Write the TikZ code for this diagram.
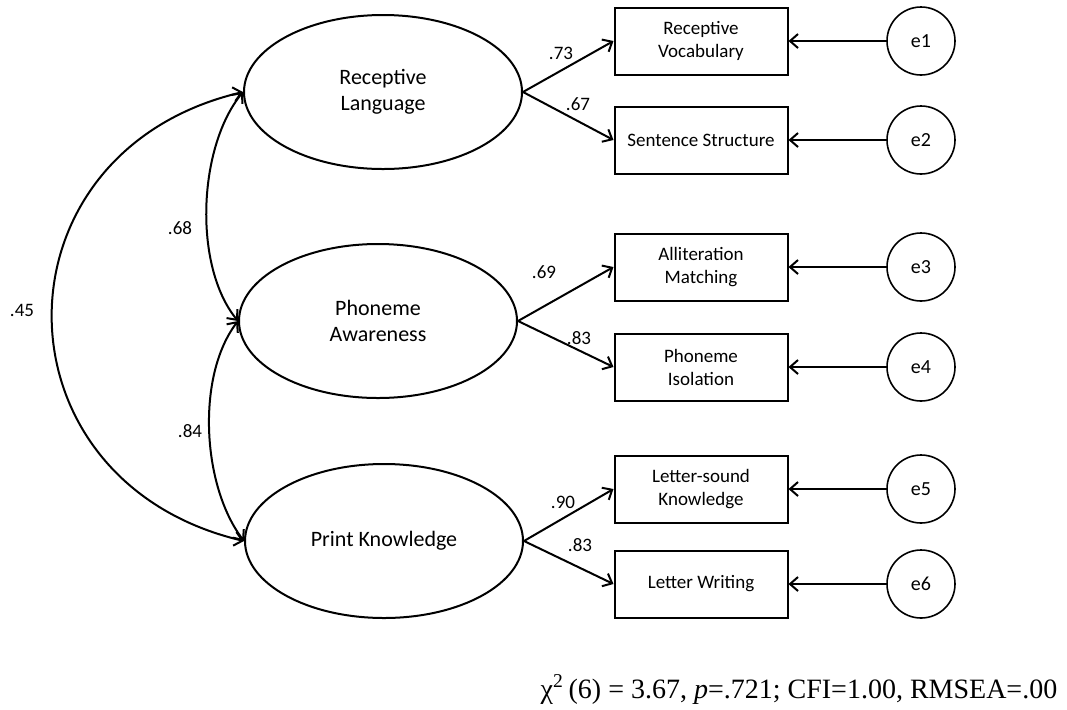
\documentclass[tikz,border=0pt]{standalone}
\usepackage{fontspec}
\setmainfont{Carlito}
\newfontfamily\statfont{Liberation Serif}
\usetikzlibrary{shapes.geometric,arrows.meta,positioning}

\tikzset{
  latent/.style={ellipse, draw, line width=1pt, minimum width=139pt, minimum height=77pt,
    inner sep=0pt, align=center, font=\fontsize{11}{13}\selectfont},
  observed/.style={rectangle, draw, line width=1pt, minimum width=86.5pt, minimum height=33.5pt,
    inner sep=0pt, align=center, font=\fontsize{9.5}{11.5}\selectfont},
  errvar/.style={circle, draw, line width=0.8pt, minimum size=34pt, inner sep=0pt,
    font=\fontsize{10}{12}\selectfont},
  coef/.style={font=\fontsize{9.5}{11}\selectfont},
  arr/.style={line width=1pt, -{Straight Barb[length=4pt,width=7pt]}},
  corr/.style={line width=1pt, {Straight Barb[length=4pt,width=7pt]}-{Straight Barb[length=4pt,width=7pt]}},
}

\begin{document}
\begin{tikzpicture}[x=0.5pt, y=-0.5pt]
    \useasboundingbox (0,0) rectangle (1067,709);

    % Facteurs latents
    \node[latent] (rl) at (383,92) {Receptive\\Language};
    \node[latent] (pa) at (378,321) {Phoneme\\Awareness};
    \node[latent] (pk) at (384,541) {Print Knowledge};

    % Indicateurs et erreurs
    \foreach \y/\name/\txt/\err in {41/rv/{Receptive\\Vocabulary}/e1, 140/ss/{Sentence Structure}/e2,
        267/am/{Alliteration\\Matching}/e3, 367/pi/{Phoneme\\Isolation}/e4,
        489/ls/{Letter-sound\\Knowledge}/e5, 584/lw/{Letter Writing}/e6} {
        \node[observed] (\name) at (701,\y) {\txt};
        \node[errvar] (\err) at (921,\y) {\err};
        \draw[arr] (\err) -- (\name);
    }

    % Saturations
    \draw[arr] (rl.east) -- (rv.west);
    \draw[arr] (rl.east) -- (ss.west);
    \draw[arr] (pa.east) -- (am.west);
    \draw[arr] (pa.east) -- (pi.west);
    \draw[arr] (pk.east) -- (ls.west);
    \draw[arr] (pk.east) -- (lw.west);
    \node[coef] (c73) at (561,53) {.73};
    \node[coef] (c67) at (578,104) {.67};
    \node[coef] (c69) at (544,272) {.69};
    \node[coef] (c83a) at (579,338) {.83};
    \node[coef] (c90) at (563,502) {.90};
    \node[coef] (c83b) at (580,545) {.83};

    % Corrélations
    \draw[corr] (rl.west) .. controls +(-255,60) and +(-255,-60) .. (pk.west);
    \draw[corr] (rl.west) .. controls +(-45,55) and +(-45,-55) .. (pa.west);
    \draw[corr] (pa.west) .. controls +(-42,55) and +(-42,-55) .. (pk.west);
    \node[coef] (c45) at (22,310) {.45};
    \node[coef] (c68) at (180,228) {.68};
    \node[coef] (c84) at (190,431) {.84};

    % Ajustement
    \node[font=\statfont\fontsize{14}{16}\selectfont, anchor=base] (fit) at (799,698)
        {χ\textsuperscript{2}\,(6) = 3.67, \textit{p}=.721; CFI=1.00, RMSEA=.00};
\end{tikzpicture}
\end{document}
